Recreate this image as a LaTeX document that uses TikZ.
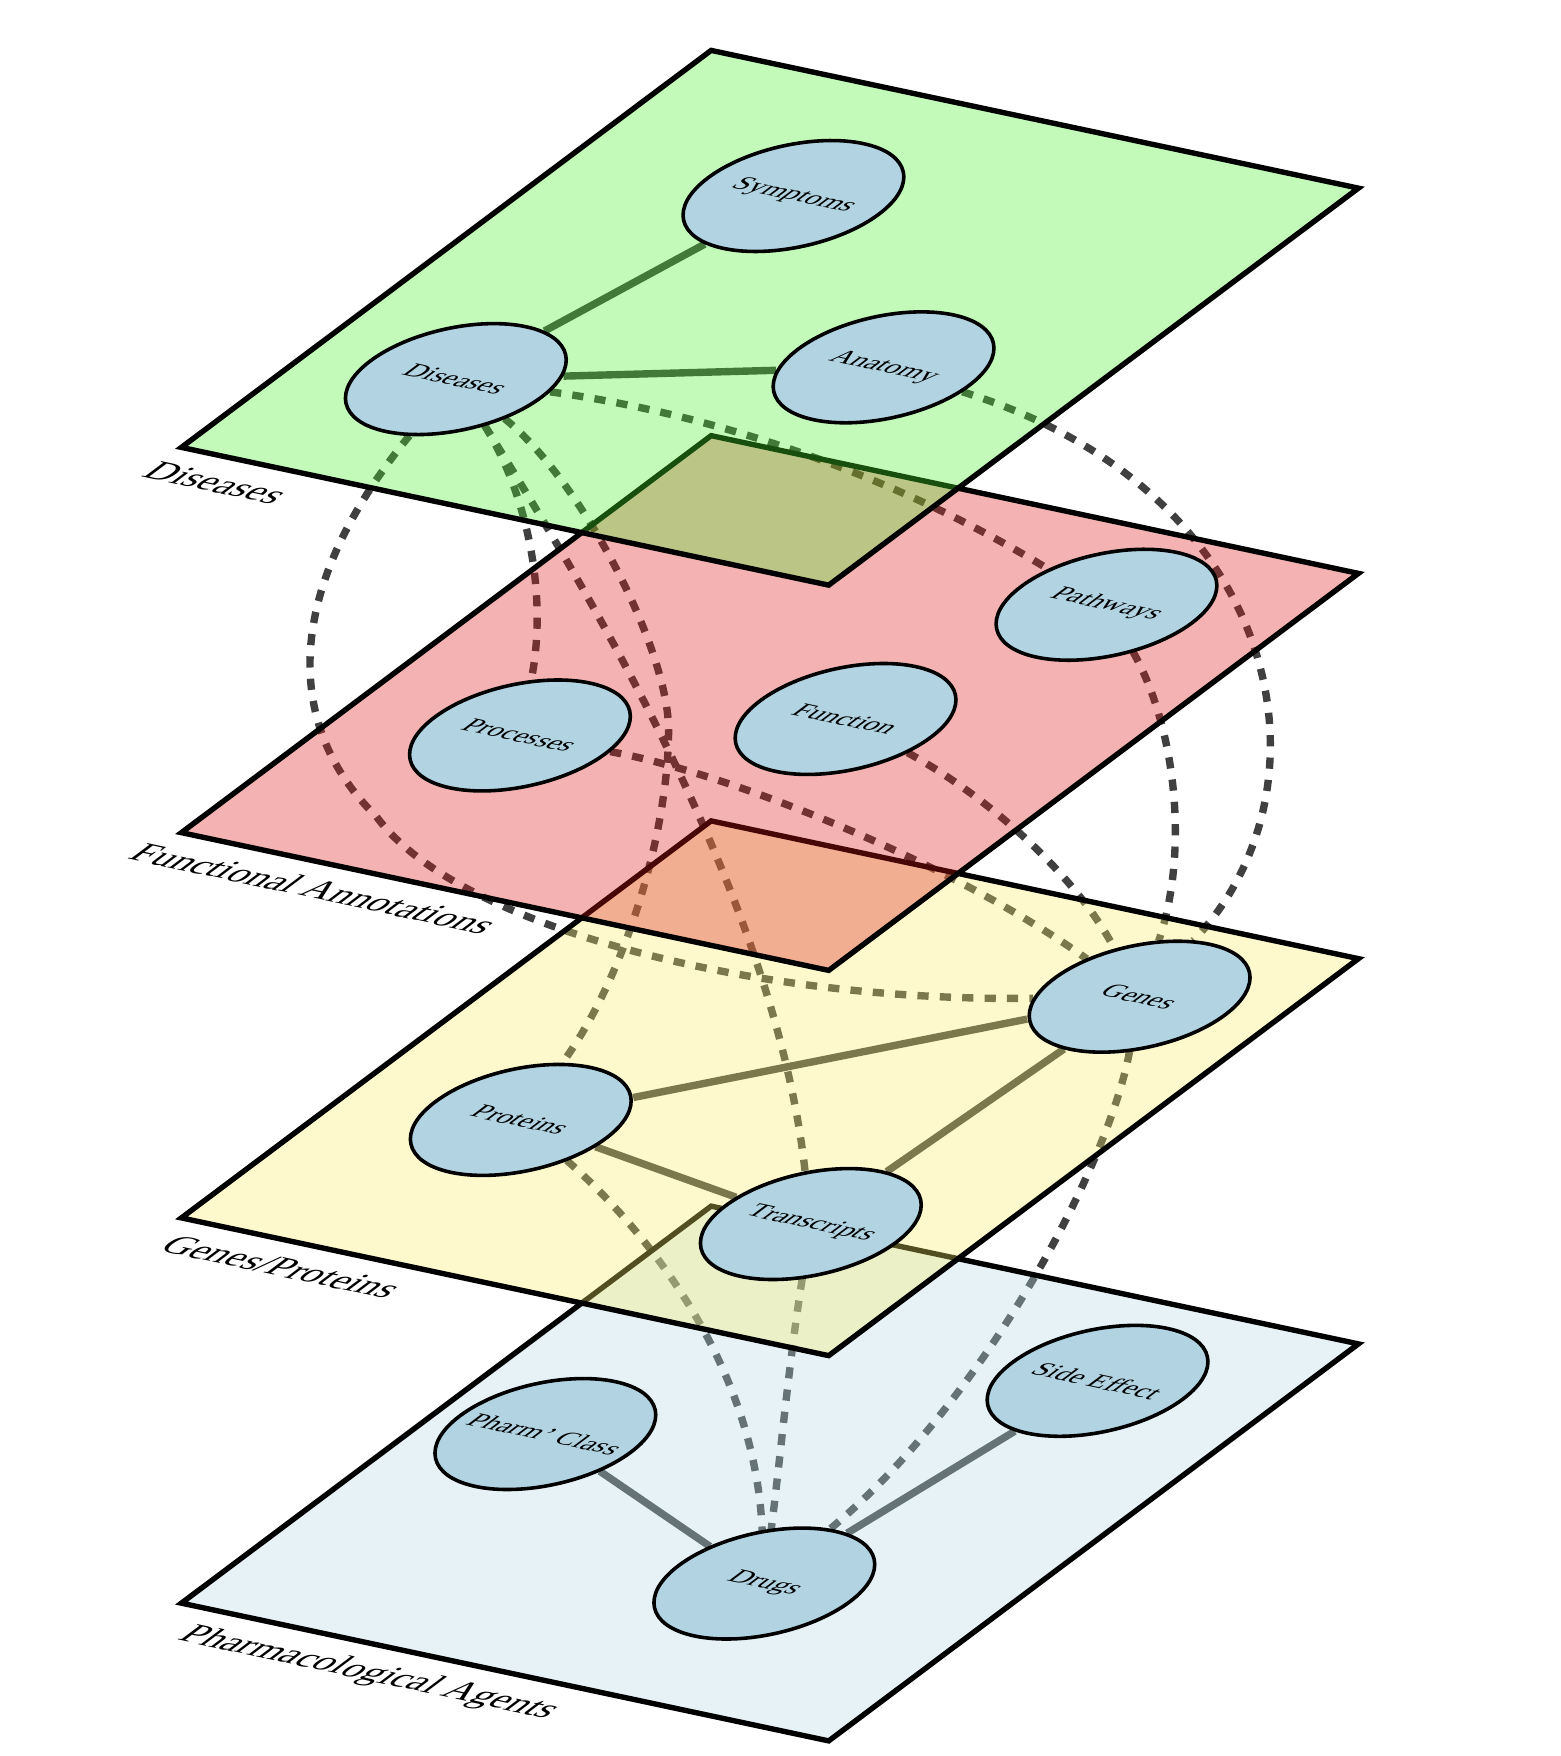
\documentclass[tikz,border=0pt]{standalone}
\usepackage{fontspec}
\setmainfont{Liberation Serif}
\pgfdeclarelayer{edgelayer}
\pgfdeclarelayer{planelayer}
\pgfsetlayers{edgelayer,planelayer,main}
\definecolor{nodefill}{RGB}{178,212,226}
\definecolor{pgreen}{RGB}{73,240,43}
\definecolor{pred}{RGB}{221,22,22}
\definecolor{pyellow}{RGB}{249,237,104}
\definecolor{pblue}{RGB}{179,216,228}
\definecolor{linkcol}{RGB}{64,64,64}
\tikzset{
  entity/.style={circle, draw=black, line width=1.6pt, fill=nodefill, minimum size=78pt, inner sep=0pt, transform shape, font=\fontsize{12.5}{15}\selectfont},
  layerlabel/.style={anchor=base west, inner sep=0pt, transform shape, font=\fontsize{17.2}{21}\selectfont},
  plane/.style={draw=black, line width=2.4pt, fill opacity=0.33, line join=miter},
  link/.style={draw=linkcol, line width=3.3pt},
  dlink/.style={link, dash pattern=on 5pt off 5pt},
  layerframe/.style={shift={#1}, cm={0.97800,-0.20812,0.80034,0.59983,(0,0)}, x=295.5pt, y=295.5pt},
}
\begin{document}
\begin{tikzpicture}
\useasboundingbox (0,0) rectangle (696.5pt,-784pt);

% Pharmacological agents (bottom)
\begin{scope}[layerframe={(81pt,-715.75pt)}]
  \begin{pgfonlayer}{planelayer}
    \path[plane, fill=pblue] (0,0) -- (1,0) -- (1,1) -- (0,1) -- cycle;
  \end{pgfonlayer}
  \node[entity] (pha) at (0.1664,0.4837) {Pharm' Class};
  \node[entity] (sid) at (0.7454,0.8186) {Side Effect};
  \node[entity] (dru) at (0.6699,0.2818) {Drugs};
  \node[layerlabel] (lblpha) at (0.052,-0.074) {Pharmacological Agents};
\end{scope}

% Genes/Proteins
\begin{scope}[layerframe={(81pt,-543.75pt)}]
  \begin{pgfonlayer}{planelayer}
    \path[plane, fill=pyellow] (0,0) -- (1,0) -- (1,1) -- (0,1) -- cycle;
  \end{pgfonlayer}
  \node[entity] (gen) at (0.7978,0.8340) {Genes};
  \node[entity] (prt) at (0.2510,0.3339) {Proteins};
  \node[entity] (tra) at (0.7672,0.2507) {Transcripts};
  \node[layerlabel] (lblgen) at (0.023,-0.074) {Genes/Proteins};
\end{scope}

% Functional annotations
\begin{scope}[layerframe={(81pt,-371.75pt)}]
  \begin{pgfonlayer}{planelayer}
    \path[plane, fill=pred] (0,0) -- (1,0) -- (1,1) -- (0,1) -- cycle;
  \end{pgfonlayer}
  \node[entity] (pat) at (0.7472,0.8333) {Pathways};
  \node[entity] (prc) at (0.2513,0.3320) {Processes};
  \node[entity] (fun) at (0.6166,0.5003) {Function};
  \node[layerlabel] (lblfun) at (-0.025,-0.074) {Functional Annotations};
\end{scope}

% Diseases (top)
\begin{scope}[layerframe={(81pt,-199.75pt)}]
  \begin{pgfonlayer}{planelayer}
    \path[plane, fill=pgreen] (0,0) -- (1,0) -- (1,1) -- (0,1) -- cycle;
  \end{pgfonlayer}
  \node[entity] (sym) at (0.3328,0.7487) {Symptoms};
  \node[entity] (dis) at (0.2205,0.2486) {Diseases};
  \node[entity] (ana) at (0.7163,0.4502) {Anatomy};
  \node[layerlabel] (lbldis) at (-0.004,-0.074) {Diseases};
\end{scope}

% connectors (drawn beneath the planes)
\begin{pgfonlayer}{edgelayer}
\begin{scope}[x=0.5pt,y=-0.5pt]
  \draw[link] (dis) -- (sym);
  \draw[link] (dis) -- (ana);
  \draw[link] (prt) -- (gen);
  \draw[link] (prt) -- (tra);
  \draw[link] (tra) -- (gen);
  \draw[link] (pha) -- (dru);
  \draw[link] (sid) -- (dru);
  \draw[dlink] (dis) .. controls (250,530) and (255,650) .. (336,729) .. controls (410,830) and (680,895) .. (gen);
  \draw[dlink] (dis) .. controls (470,440) and (490,530) .. (prc);
  \draw[dlink] (dis) .. controls (520,520) and (692,800) .. (tra);
  \draw[dlink] (dis) .. controls (520,430) and (597,580) .. (597,652) .. controls (597,740) and (560,870) .. (prt);
  \draw[dlink] (dis) .. controls (640,370) and (800,425) .. (pat);
  \draw[dlink] (ana) .. controls (1150,440) and (1195,705) .. (gen);
  \draw[dlink] (pat) .. controls (1050,650) and (1062,760) .. (gen);
  \draw[dlink] (prc) .. controls (650,690) and (850,770) .. (gen);
  \draw[dlink] (fun) .. controls (880,710) and (960,780) .. (gen);
  \draw[dlink] (gen) .. controls (990,1040) and (880,1250) .. (dru);
  \draw[dlink] (prt) .. controls (590,1110) and (675,1230) .. (dru);
  \draw[dlink] (tra) .. controls (704,1220) and (697,1300) .. (dru);
\end{scope}
\end{pgfonlayer}
\end{tikzpicture}
\end{document}
